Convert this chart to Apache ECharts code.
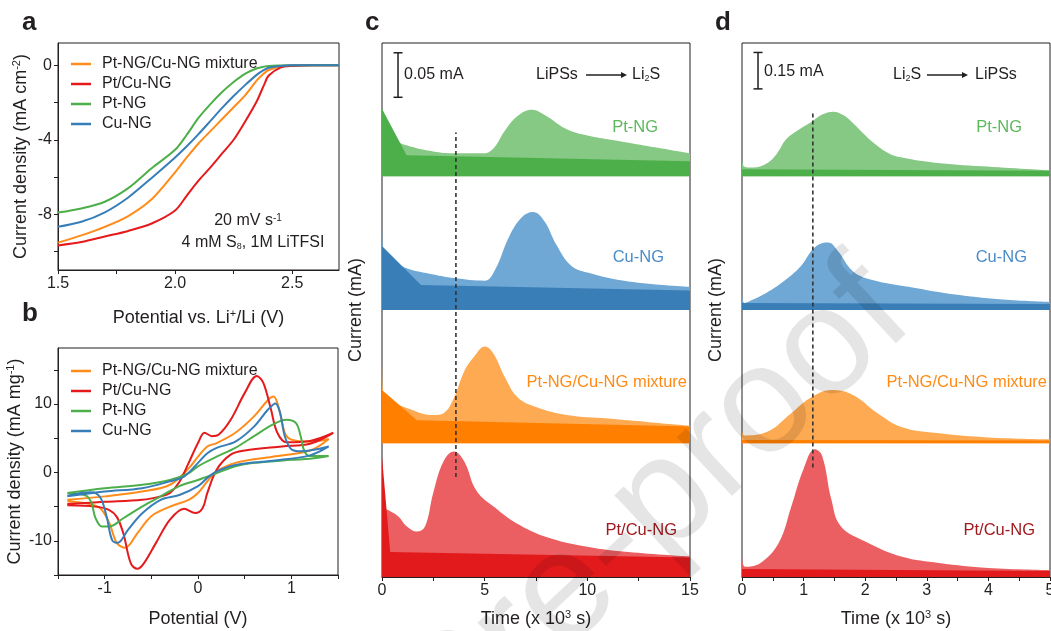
<!DOCTYPE html>
<html>
<head>
<meta charset="utf-8">
<script src="https://cdn.jsdelivr.net/npm/echarts@6/dist/echarts.min.js"></script>
<style>
html,body{margin:0;padding:0;background:#fff}
#chart{width:1051px;height:631px}
</style>
</head>
<body>
<div id="chart"></div>
<script>
// ---------------- data ----------------
const sampleNames = ['Pt-NG/Cu-NG mixture', 'Pt/Cu-NG', 'Pt-NG', 'Cu-NG'];

// (a) linear sweep voltammetry: potential (V vs Li+/Li) and current density (mA cm-2)
const lsvPotential = [1.5, 1.6, 1.7, 1.8, 1.9, 2.0, 2.05, 2.1, 2.15, 2.2, 2.25, 2.3, 2.35, 2.38, 2.4, 2.45, 2.5, 2.6, 2.7];
const lsvMixture = [-9.53, -9.14, -8.68, -8.1, -7.2, -5.75, -4.95, -4.2, -3.55, -2.9, -2.25, -1.6, -0.8, -0.42, -0.25, -0.06, -0.01, 0, 0];
const lsvPtCu    = [-9.68, -9.5, -9.2, -8.9, -8.5, -7.8, -7.0, -6.2, -5.5, -4.75, -4.0, -3.0, -1.9, -1.05, -0.55, -0.12, -0.03, 0, 0];
const lsvPtNG    = [-7.91, -7.69, -7.33, -6.6, -5.53, -4.54, -3.73, -2.83, -2.1, -1.45, -0.9, -0.45, -0.16, -0.07, -0.03, -0.01, 0, 0, 0];
const lsvCuNG    = [-8.68, -8.41, -7.9, -7.1, -6.05, -4.95, -4.35, -3.7, -3.0, -2.3, -1.65, -1.05, -0.5, -0.25, -0.13, -0.03, 0, 0, 0];
const lsvXTicks  = [1.5, 1.75, 2.0, 2.25, 2.5];
const lsvXLabels = [1.5, 2.0, 2.5];
const lsvYTicks  = [0, -2, -4, -6, -8, -10];
const lsvYLabels = [0, -4, -8];

// (b) cyclic voltammetry loops: [potential (V), current density (mA mg-1)], forward then reverse sweep
const cvMixture = [[-1.4,-4.0],[-1.0,-3.5],[-0.6,-2.8],[-0.3,-1.8],[-0.1,0.6],[0.0,2.3],[0.1,3.8],[0.2,4.3],[0.4,5.8],[0.6,8.2],[0.75,10.6],[0.81,11.1],[0.87,9.2],[0.93,5.8],[1.0,4.8],[1.2,4.5],[1.4,4.9],
  [1.2,3.2],[0.8,2.3],[0.4,1.4],[0.2,0.15],[0.1,-1.3],[0.0,-3.0],[-0.1,-4.0],[-0.3,-5.0],[-0.5,-6.4],[-0.65,-8.9],[-0.78,-11.0],[-0.87,-10.3],[-0.95,-7.4],[-1.05,-5.2],[-1.2,-4.5],[-1.4,-4.2]];
const cvPtCu = [[-1.4,-4.6],[-1.0,-4.3],[-0.6,-4.0],[-0.4,-3.5],[-0.3,-3.0],[-0.2,-1.4],[-0.1,1.4],[0.0,4.3],[0.07,5.8],[0.15,5.3],[0.22,5.5],[0.35,7.7],[0.5,11.6],[0.63,14.1],[0.7,13.1],[0.78,9.3],[0.85,5.8],[0.95,4.4],[1.2,4.6],[1.45,5.8],
  [1.2,4.2],[0.9,3.8],[0.5,3.2],[0.35,2.6],[0.2,0.4],[0.1,-3.0],[0.05,-5.2],[-0.03,-5.95],[-0.15,-5.3],[-0.3,-6.9],[-0.45,-10.3],[-0.58,-13.3],[-0.65,-14.1],[-0.72,-13.3],[-0.8,-8.9],[-0.87,-6.5],[-0.95,-5.5],[-1.1,-5.0],[-1.4,-4.8]];
const cvPtNG = [[-1.4,-3.0],[-1.0,-2.3],[-0.6,-1.8],[-0.3,-1.1],[-0.1,-0.1],[0.0,0.9],[0.2,2.3],[0.4,3.6],[0.6,5.3],[0.8,7.0],[0.95,7.7],[1.05,7.2],[1.1,5.3],[1.14,3.1],[1.2,2.4],[1.4,2.4],
  [1.2,2.0],[1.0,1.85],[0.6,1.4],[0.4,0.9],[0.2,-0.1],[0.0,-1.1],[-0.2,-2.0],[-0.4,-3.5],[-0.6,-5.0],[-0.8,-6.7],[-0.95,-7.9],[-1.03,-7.9],[-1.1,-6.6],[-1.14,-4.5],[-1.2,-3.4],[-1.4,-3.0]];
const cvCuNG = [[-1.4,-3.5],[-1.0,-2.8],[-0.6,-2.3],[-0.3,-1.3],[-0.15,-0.6],[0.0,1.4],[0.1,2.8],[0.2,3.6],[0.4,4.5],[0.6,6.7],[0.75,9.2],[0.83,10.1],[0.88,8.7],[0.93,5.3],[1.0,3.4],[1.1,3.1],[1.4,3.8],
  [1.2,2.5],[0.8,1.7],[0.4,1.1],[0.2,0.15],[0.1,-0.8],[0.0,-2.0],[-0.2,-3.3],[-0.4,-4.0],[-0.6,-6.0],[-0.75,-8.4],[-0.86,-10.3],[-0.92,-9.9],[-0.98,-6.4],[-1.05,-3.6],[-1.15,-2.9],[-1.4,-3.4]];
const cvXTicks  = [-1.5, -1, -0.5, 0, 0.5, 1, 1.5];
const cvXLabels = [-1, 0, 1];
const cvYTicks  = [-15, -10, -5, 0, 5, 10, 15];
const cvYLabels = [-10, 0, 10];

// (c) potentiostatic Li2S deposition: [time (x1000 s), current (mA) above the panel floor]
const depPtNG     = [[0,0.076],[0.2,0.065],[0.6,0.042],[1.2,0.035],[2.5,0.028],[3.5,0.026],[4.9,0.026],[5.4,0.031],[6,0.052],[6.6,0.068],[7.3,0.075],[8,0.068],[9,0.053],[10,0.046],[12,0.038],[13.5,0.032],[15,0.026]];
const depPtNGBase = [[0,0.076],[1.2,0.024],[15,0.017]];
const depCuNG     = [[0,0.106],[0.04,0.072],[0.6,0.055],[1.2,0.047],[2.5,0.040],[3.5,0.036],[5,0.033],[5.5,0.045],[6.2,0.083],[6.8,0.104],[7.35,0.110],[7.9,0.100],[8.5,0.073],[9.2,0.050],[10,0.042],[12,0.032],[15,0.026]];
const depCuNGBase = [[0,0.072],[1.9,0.028],[15,0.022]];
const depMix      = [[0,0.103],[0.04,0.060],[0.6,0.047],[1.2,0.040],[2.5,0.032],[3,0.034],[3.5,0.051],[4,0.081],[4.5,0.098],[5,0.109],[5.4,0.102],[6,0.074],[6.6,0.052],[7.5,0.041],[9,0.032],[11,0.028],[13,0.024],[15,0.020]];
const depMixBase  = [[0,0.060],[1.7,0.026],[15,0.019]];
const depPtCu     = [[0,0.076],[0.1,0.076],[0.4,0.074],[0.8,0.068],[1.2,0.057],[1.7,0.051],[2.1,0.057],[2.5,0.095],[3,0.130],[3.5,0.141],[4,0.130],[4.6,0.097],[5.5,0.078],[6.5,0.061],[8,0.045],[10,0.034],[12,0.028],[15,0.023]];
const depPtCuBase = [[0,0.135],[0.4,0.028],[15,0.022]];
const depScale = 0.05;          // mA, scale bar
const depMarkTime = 3.6;        // x1000 s, dotted marker
const depXTicks  = [0, 2.5, 5, 7.5, 10, 12.5, 15];
const depXLabels = [0, 5, 10, 15];

// (d) potentiostatic Li2S dissolution
const disPtNG     = [[0,0.079],[0.04,0.040],[0.18,0.037],[0.4,0.054],[0.56,0.092],[0.72,0.154],[0.94,0.196],[1.15,0.229],[1.3,0.255],[1.48,0.267],[1.65,0.252],[1.8,0.22],[1.97,0.177],[2.13,0.14],[2.35,0.10],[2.56,0.08],[3.1,0.058],[3.9,0.042],[5,0.025]];
const disPtNGBase = [[0,0.030],[5,0.024]];
const disCuNG     = [[0,0.071],[0.04,0.029],[0.2,0.045],[0.4,0.071],[0.65,0.113],[0.95,0.179],[1.15,0.25],[1.3,0.275],[1.4,0.278],[1.55,0.245],[1.8,0.16],[2.1,0.125],[2.7,0.096],[3.5,0.0625],[4.3,0.042],[5,0.033]];
const disCuNGBase = [[0,0.029],[5,0.025]];
const disMix      = [[0,0.0625],[0.04,0.033],[0.4,0.047],[0.8,0.125],[1.1,0.186],[1.45,0.22],[1.8,0.2],[2.2,0.125],[2.6,0.067],[3.2,0.042],[4,0.025],[5,0.017]];
const disMixBase  = [[0,0.014],[5,0.012]];
const disPtCu     = [[0,0.092],[0.05,0.042],[0.3,0.058],[0.6,0.142],[0.8,0.29],[1.0,0.446],[1.18,0.526],[1.3,0.5],[1.45,0.32],[1.6,0.21],[2.0,0.146],[2.6,0.083],[3.2,0.058],[4,0.0375],[5,0.029]];
const disPtCuBase = [[0,0.033],[5,0.025]];
const disScale = 0.15;          // mA, scale bar
const disMarkTime = 1.15;       // x1000 s, dotted marker
const disXTicks  = [0, 0.5, 1, 1.5, 2, 2.5, 3, 3.5, 4, 4.5, 5];
const disXLabels = [0, 1, 2, 3, 4, 5];

// ---------------- styling ----------------
const FONT = '"Liberation Sans", Arial, Helvetica, sans-serif';
const INK = '#231f20';
const lineColor = {mix: '#ff8c1a', ptcu: '#e41a1c', ptng: '#4daf4a', cung: '#377eb8'};
const fillLight = {mix: '#fdaa52', ptcu: '#eb5f62', ptng: '#86c984', cung: '#6fa8d5'};
const fillDark  = {mix: '#ff7f00', ptcu: '#e31a1c', ptng: '#4daf4a', cung: '#3a7eb8'};
const tagColor  = {mix: '#ff8a14', ptcu: '#a1191d', ptng: '#5cb85a', cung: '#4a8cc7'};

const rich = {
  sup: {fontSize: 11, lineHeight: 8, verticalAlign: 'top', fontFamily: FONT, color: INK},
  sub: {fontSize: 10, lineHeight: 8, verticalAlign: 'bottom', fontFamily: FONT, color: INK}
};

function axis(o) {
  return {
    type: 'value', gridIndex: o.grid, min: o.min, max: o.max,
    splitLine: {show: false},
    axisLine: {show: o.line !== false, onZero: false, lineStyle: {color: INK, width: 1}},
    axisTick: o.ticks ? {show: true, inside: false, length: 4, customValues: o.ticks, lineStyle: {color: INK, width: 1}} : {show: false},
    axisLabel: o.labels ? {show: true, customValues: o.labels, color: INK, fontSize: 16, fontFamily: FONT, margin: 6,
      formatter: o.fmt || (v => String(v))} : {show: false},
    name: o.name || '', nameLocation: 'middle', nameGap: o.gap || 30,
    nameTextStyle: {color: INK, fontSize: 18, fontFamily: FONT, lineHeight: 20, rich: rich}
  };
}
function hidden(grid, min, max) {
  return {type: 'value', gridIndex: grid, min: min, max: max, show: false};
}

// grid layout: 0 a, 1 b, 2 c frame, 3-6 c rows, 7 d frame, 8-11 d rows
const ROW = 133.5;
const grids = [
  {left: 58, top: 43, width: 281, height: 227},
  {left: 58, top: 348, width: 280, height: 227},
  {left: 382, top: 43, width: 308, height: 4 * ROW}
];
for (let i = 0; i < 4; i++) grids.push({left: 382, top: 43 + i * ROW, width: 308, height: ROW, show: false});
grids.push({left: 742, top: 43, width: 308, height: 4 * ROW});
for (let i = 0; i < 4; i++) grids.push({left: 742, top: 43 + i * ROW, width: 308, height: ROW, show: false});
grids.forEach(g => {
  g.outerBoundsMode = 'none';
  g.containLabel = false;
  if (g.show !== false) { g.show = true; g.borderColor = INK; g.borderWidth = 1; g.backgroundColor = 'transparent'; }
});

const C_MAX = 0.15, D_MAX = 0.55;

const xAxes = [
  axis({grid: 0, min: 1.5, max: 2.7, ticks: lsvXTicks, labels: lsvXLabels, fmt: v => v.toFixed(1),
        name: 'Potential vs. Li{sup|+}/Li (V)', gap: 38}),
  axis({grid: 1, min: -1.5, max: 1.5, ticks: cvXTicks, labels: cvXLabels, name: 'Potential (V)', gap: 34}),
  axis({grid: 2, min: 0, max: 15, ticks: depXTicks, labels: depXLabels, name: 'Time (x 10{sup|3} s)', gap: 32}),
  hidden(3, 0, 15), hidden(4, 0, 15), hidden(5, 0, 15), hidden(6, 0, 15),
  axis({grid: 7, min: 0, max: 5, ticks: disXTicks, labels: disXLabels, name: 'Time (x 10{sup|3} s)', gap: 32}),
  hidden(8, 0, 5), hidden(9, 0, 5), hidden(10, 0, 5), hidden(11, 0, 5)
];
const yAxes = [
  axis({grid: 0, min: -11, max: 1.2, ticks: lsvYTicks, labels: lsvYLabels, name: 'Current density (mA cm{sup|-2})', gap: 27}),
  axis({grid: 1, min: -15, max: 18.2, ticks: cvYTicks, labels: cvYLabels, name: 'Current density (mA mg{sup|-1})', gap: 27}),
  axis({grid: 2, min: 0, max: 4, line: false, name: 'Current (mA)', gap: 16}),
  hidden(3, 0, C_MAX), hidden(4, 0, C_MAX), hidden(5, 0, C_MAX), hidden(6, 0, C_MAX),
  axis({grid: 7, min: 0, max: 4, line: false, name: 'Current (mA)', gap: 16}),
  hidden(8, 0, D_MAX), hidden(9, 0, D_MAX), hidden(10, 0, D_MAX), hidden(11, 0, D_MAX)
];

const series = [];

// (a) LSV curves
const lsvSets = [['mix', lsvMixture], ['ptcu', lsvPtCu], ['ptng', lsvPtNG], ['cung', lsvCuNG]];
lsvSets.forEach(([k, vals], i) => {
  series.push({
    type: 'line', name: sampleNames[i], xAxisIndex: 0, yAxisIndex: 0,
    data: lsvPotential.map((p, j) => [p, vals[j]]),
    smooth: 0.3, showSymbol: false, symbol: 'none',
    lineStyle: {color: lineColor[k], width: 2}, itemStyle: {color: lineColor[k]}, z: 3
  });
});

// (b) CV loops
const cvSets = [['mix', cvMixture], ['ptcu', cvPtCu], ['ptng', cvPtNG], ['cung', cvCuNG]];
cvSets.forEach(([k, pts], i) => {
  series.push({
    type: 'line', name: sampleNames[i], xAxisIndex: 1, yAxisIndex: 1,
    data: pts, smooth: 0.35, showSymbol: false, symbol: 'none',
    lineStyle: {color: lineColor[k], width: 2}, itemStyle: {color: lineColor[k]}, z: 3
  });
});

// (c)/(d) stacked current transients: measured trace (light) over the fitted background (dark)
function transient(name, idx, pts, color, z, smooth) {
  series.push({
    type: 'line', name: name, xAxisIndex: idx, yAxisIndex: idx, data: pts,
    smooth: smooth ? 0.4 : false, showSymbol: false, symbol: 'none',
    lineStyle: {width: 0, color: color}, itemStyle: {color: color},
    areaStyle: {color: color, opacity: 1, origin: 'start'}, z: z, silent: true
  });
}
const depRows = [['ptng', depPtNG, depPtNGBase], ['cung', depCuNG, depCuNGBase], ['mix', depMix, depMixBase], ['ptcu', depPtCu, depPtCuBase]];
depRows.forEach(([k, trace, base], i) => {
  transient('dep ' + k, 3 + i, trace, fillLight[k], 2, true);
  transient('dep base ' + k, 3 + i, base, fillDark[k], 3, false);
});
const disRows = [['ptng', disPtNG, disPtNGBase], ['cung', disCuNG, disCuNGBase], ['mix', disMix, disMixBase], ['ptcu', disPtCu, disPtCuBase]];
disRows.forEach(([k, trace, base], i) => {
  transient('dis ' + k, 8 + i, trace, fillLight[k], 2, true);
  transient('dis base ' + k, 8 + i, base, fillDark[k], 3, false);
});

// scale bars (drawn in the top row of each stack, on that row's current scale)
function scaleBar(idx, t, top, size) {
  series.push({
    type: 'line', xAxisIndex: idx, yAxisIndex: idx, data: [[t, top], [t, top - size]],
    symbol: 'rect', symbolSize: [9, 1.5], showSymbol: true,
    lineStyle: {color: INK, width: 1.5}, itemStyle: {color: INK}, z: 6, silent: true
  });
}
scaleBar(3, 0.78, 0.139, depScale);
scaleBar(8, 0.26, 0.511, disScale);

// dotted time markers across the stacks
function marker(idx, t, y0, y1) {
  series.push({
    type: 'line', xAxisIndex: idx, yAxisIndex: idx, data: [[t, y0], [t, y1]],
    symbol: 'none', lineStyle: {color: '#333', width: 1.6, type: [4, 3]}, z: 7, silent: true
  });
}
marker(2, depMarkTime, 0.75, 3.33);
marker(7, disMarkTime, 0.82, 3.48);

// ---------------- text overlays ----------------
function txt(x, y, text, opt) {
  opt = opt || {};
  return {
    type: 'text', x: x, y: y, z: opt.z || 20, silent: true,
    rotation: opt.rotation || 0,
    style: {
      text: text, fill: opt.color || INK,
      font: (opt.weight || 'normal') + ' ' + (opt.size || 16) + 'px ' + FONT,
      align: opt.align || 'left', verticalAlign: opt.valign || 'middle',
      rich: {
        sup: {fontSize: 10, lineHeight: 8, verticalAlign: 'top', fill: opt.color || INK, fontFamily: FONT},
        sub: {fontSize: 9, lineHeight: 8, verticalAlign: 'bottom', fill: opt.color || INK, fontFamily: FONT}
      }
    }
  };
}
function arrow(x0, x1, y) {
  return [
    {type: 'line', z: 20, silent: true, shape: {x1: x0, y1: y, x2: x1 - 5, y2: y}, style: {stroke: INK, lineWidth: 1.3}},
    {type: 'polygon', z: 20, silent: true, shape: {points: [[x1 - 6, y - 3], [x1, y], [x1 - 6, y + 3]]}, style: {fill: INK}}
  ];
}

const graphics = [
  txt(22, 23, 'a', {size: 26, weight: 'bold'}),
  txt(22, 314, 'b', {size: 26, weight: 'bold'}),
  txt(365, 23, 'c', {size: 26, weight: 'bold'}),
  txt(715, 23, 'd', {size: 26, weight: 'bold'}),
  txt(248, 221, '20 mV s{sup|-1}', {align: 'center'}),
  txt(253, 243, '4 mM S{sub|8}, 1M LiTFSI', {align: 'center'}),
  txt(404, 75, '0.05 mA'),
  txt(536, 75, 'LiPSs'),
  txt(632, 75, 'Li{sub|2}S'),
  ...arrow(586, 627, 75),
  txt(764, 72, '0.15 mA'),
  txt(893, 75, 'Li{sub|2}S'),
  ...arrow(927, 968, 75),
  txt(975, 75, 'LiPSs'),
  txt(658, 127, 'Pt-NG', {align: 'right', color: tagColor.ptng, size: 16.5}),
  txt(664, 257, 'Cu-NG', {align: 'right', color: tagColor.cung, size: 16.5}),
  txt(687, 382, 'Pt-NG/Cu-NG mixture', {align: 'right', color: tagColor.mix, size: 16.5}),
  txt(677, 530, 'Pt/Cu-NG', {align: 'right', color: tagColor.ptcu, size: 16.5}),
  txt(1022, 127, 'Pt-NG', {align: 'right', color: tagColor.ptng, size: 16.5}),
  txt(1027, 257, 'Cu-NG', {align: 'right', color: tagColor.cung, size: 16.5}),
  txt(1047, 382, 'Pt-NG/Cu-NG mixture', {align: 'right', color: tagColor.mix, size: 16.5}),
  txt(1035, 530, 'Pt/Cu-NG', {align: 'right', color: tagColor.ptcu, size: 16.5}),
  // journal watermark
  txt(655, 510, 'Pre-proof', {align: 'center', size: 153, color: 'rgba(0,0,0,0.1)', rotation: 0.75, z: 50})
];

const legendBase = {
  orient: 'vertical', data: sampleNames, icon: 'rect', itemWidth: 20, itemHeight: 2.5, itemGap: 4,
  selectedMode: false,
  textStyle: {color: INK, fontSize: 16, fontFamily: FONT, lineHeight: 16, padding: [0, 0, 0, 6]}
};

const chart = echarts.init(document.getElementById('chart'), null, {renderer: 'canvas'});
chart.setOption({
  animation: false,
  backgroundColor: '#ffffff',
  textStyle: {fontFamily: FONT},
  grid: grids,
  xAxis: xAxes,
  yAxis: yAxes,
  legend: [
    Object.assign({left: 66, top: 51}, legendBase),
    Object.assign({left: 66, top: 358}, legendBase)
  ],
  series: series,
  graphic: graphics
});
</script>
</body>
</html>
